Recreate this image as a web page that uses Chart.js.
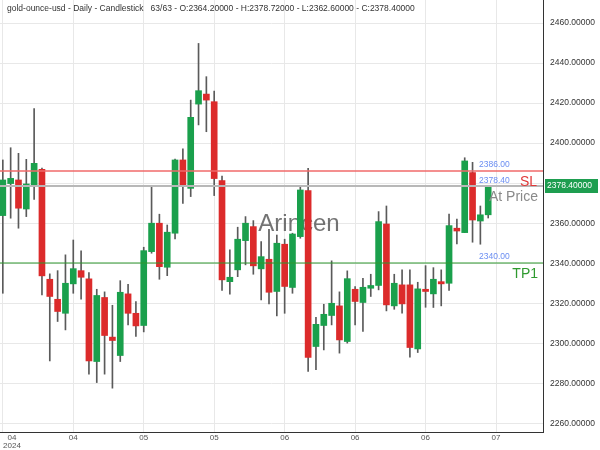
<!DOCTYPE html>
<html>
<head>
<meta charset="utf-8">
<script src="https://cdn.jsdelivr.net/npm/chart.js@4.4.1/dist/chart.umd.min.js"></script>
<style>
  body { margin: 0; background: #fff; }
  canvas { display: block; }
</style>
</head>
<body>
<canvas id="goldChart" width="600" height="450"></canvas>
<script>
// daily OHLC, 63 candles
var opens  = [2363.8, 2379.8, 2381.6, 2367.1, 2378.3, 2386.9, 2332.0, 2322.0, 2315.0, 2329.7,
              2336.3, 2332.2, 2290.9, 2322.9, 2303.1, 2293.9, 2324.7, 2315.0, 2308.9, 2345.8,
              2360.0, 2338.0, 2355.0, 2391.6, 2377.4, 2419.5, 2424.5, 2420.7, 2381.3, 2330.8,
              2336.7, 2351.3, 2358.3, 2337.2, 2342.0, 2325.9, 2349.5, 2327.9, 2353.3, 2376.3,
              2298.4, 2308.9, 2313.9, 2318.7, 2300.9, 2327.0, 2320.4, 2327.5, 2328.9, 2359.6,
              2318.7, 2329.2, 2329.2, 2297.2, 2327.0, 2324.7, 2330.8, 2330.0, 2357.5, 2355.3,
              2385.3, 2361.1, 2364.2];
var highs  = [2391.6, 2397.7, 2394.9, 2391.9, 2417.2, 2387.5, 2334.7, 2336.3, 2344.2, 2351.6,
              2346.2, 2335.3, 2327.0, 2325.7, 2319.0, 2331.3, 2329.5, 2320.9, 2348.0, 2378.6,
              2364.5, 2359.1, 2392.0, 2397.1, 2421.5, 2449.8, 2433.2, 2426.0, 2383.6, 2346.7,
              2358.0, 2363.3, 2361.3, 2350.8, 2357.0, 2354.1, 2352.0, 2355.0, 2378.3, 2387.4,
              2313.0, 2319.5, 2341.2, 2325.7, 2336.2, 2328.4, 2332.5, 2334.5, 2365.8, 2368.6,
              2334.5, 2336.7, 2336.7, 2330.5, 2338.8, 2337.8, 2336.7, 2364.5, 2362.0, 2392.7,
              2390.4, 2368.6, 2378.72];
var lows   = [2325.0, 2362.5, 2357.5, 2363.3, 2371.9, 2324.2, 2291.2, 2310.9, 2306.7, 2325.0,
              2322.0, 2284.6, 2280.4, 2284.6, 2277.6, 2290.9, 2309.2, 2303.4, 2305.7, 2345.0,
              2332.0, 2333.8, 2352.1, 2369.9, 2373.3, 2409.1, 2405.7, 2373.8, 2326.4, 2324.5,
              2333.3, 2339.2, 2334.5, 2321.7, 2319.7, 2313.7, 2315.0, 2325.0, 2352.5, 2285.9,
              2286.8, 2296.7, 2309.2, 2295.1, 2300.1, 2309.2, 2305.9, 2323.4, 2326.7, 2316.2,
              2317.0, 2315.0, 2293.1, 2295.4, 2318.0, 2317.9, 2318.7, 2326.4, 2349.7, 2355.3,
              2350.5, 2349.5, 2362.6];
var closes = [2381.6, 2382.4, 2367.5, 2379.6, 2389.9, 2333.7, 2323.4, 2315.9, 2330.0, 2337.3,
              2333.0, 2291.2, 2323.9, 2303.9, 2301.4, 2325.5, 2315.0, 2308.7, 2346.3, 2360.0,
              2338.3, 2355.5, 2391.6, 2378.3, 2412.9, 2426.2, 2421.5, 2382.3, 2331.7, 2333.0,
              2352.0, 2360.0, 2338.7, 2343.3, 2325.5, 2350.0, 2328.4, 2354.6, 2376.6, 2292.9,
              2309.5, 2314.5, 2320.0, 2301.7, 2332.3, 2320.9, 2328.0, 2328.9, 2360.8, 2319.2,
              2330.0, 2319.7, 2297.9, 2327.2, 2325.9, 2332.0, 2329.7, 2358.8, 2356.1, 2391.1,
              2361.6, 2364.2, 2378.4];

var xTickPos    = [0, 9, 18, 27, 36, 45, 54, 63];
var xTickLabels = ['04', '04', '05', '05', '06', '06', '06', '07'];
var yearLabel   = '2024';
var yTicks      = [2260, 2280, 2300, 2320, 2340, 2360, 2380, 2400, 2420, 2440, 2460];

var slLevel = 2386.00;
var lastPrice = 2378.40;
var tpLevel = 2340.00;

var UP = '#1aa04c';
var DOWN = '#dc2b2b';
var FONT = '"Liberation Sans", Arial, sans-serif';

var wickData = [], bodyData = [], bodyColors = [];
for (var i = 0; i < opens.length; i++) {
  wickData.push({ x: i, y: [lows[i], highs[i]] });
  bodyData.push({ x: i, y: [opens[i], closes[i]] });
  bodyColors.push(closes[i] >= opens[i] ? UP : DOWN);
}

var overlay = {
  id: 'overlay',
  beforeDatasetsDraw: function (chart) {
    var ctx = chart.ctx;
    ctx.save();
    ctx.fillStyle = 'rgba(90,90,90,0.85)';
    ctx.font = '24px ' + FONT;
    ctx.textAlign = 'center';
    ctx.textBaseline = 'middle';
    ctx.fillText('Arincen', 299, 224);
    ctx.restore();
  },
  afterDatasetsDraw: function (chart) {
    var ctx = chart.ctx, a = chart.chartArea, y = chart.scales.y, x = chart.scales.x;
    ctx.save();
    var ySl = Math.round(y.getPixelForValue(slLevel));
    var yLast = Math.round(y.getPixelForValue(lastPrice));
    var yTp = Math.round(y.getPixelForValue(tpLevel));

    ctx.lineWidth = 1.5;
    ctx.strokeStyle = '#f06a6a';
    ctx.beginPath(); ctx.moveTo(a.left, ySl); ctx.lineTo(a.right, ySl); ctx.stroke();
    ctx.lineWidth = 2;
    ctx.strokeStyle = '#b8b8b8';
    ctx.beginPath(); ctx.moveTo(a.left, yLast); ctx.lineTo(a.right, yLast); ctx.stroke();
    ctx.lineWidth = 1.2;
    ctx.strokeStyle = '#2e982e';
    ctx.beginPath(); ctx.moveTo(a.left, yTp); ctx.lineTo(a.right, yTp); ctx.stroke();

    // small price tags
    ctx.font = '8.5px ' + FONT;
    ctx.fillStyle = '#6b8ef2';
    ctx.textAlign = 'left';
    ctx.textBaseline = 'middle';
    ctx.fillText(slLevel.toFixed(2), 479, ySl - 6);
    ctx.fillText(lastPrice.toFixed(2), 479, yLast - 5);
    ctx.fillText(tpLevel.toFixed(2), 479, yTp - 6);

    ctx.font = '14px ' + FONT;
    ctx.textAlign = 'right';
    ctx.fillStyle = '#e03a3a';
    ctx.fillText('SL', 537, ySl + 11);
    ctx.fillStyle = '#8a8a8a';
    ctx.fillText('At Price', 538, yLast + 11);
    ctx.fillStyle = '#2f9a2f';
    ctx.fillText('TP1', 538, yTp + 11);

    // last price box on the axis
    ctx.fillStyle = '#1e9e50';
    ctx.fillRect(a.right + 2, yLast - 7, 53, 14);
    ctx.fillStyle = '#ffffff';
    ctx.font = '8.5px ' + FONT;
    ctx.textAlign = 'left';
    ctx.fillText(lastPrice.toFixed(5), a.right + 4, yLast);

    // header line
    ctx.fillStyle = '#333';
    ctx.fillText('gold-ounce-usd - Daily - Candlestick   63/63 - O:' + opens[62].toFixed(5) +
      ' - H:' + highs[62].toFixed(5) + ' - L:' + lows[62].toFixed(5) + ' - C:' + closes[62].toFixed(5), 7, 9);

    // date labels under the axis
    ctx.font = '8px ' + FONT;
    ctx.fillStyle = '#555';
    ctx.textAlign = 'center';
    xTickPos.forEach(function (v, k) {
      var px = x.getPixelForValue(v);
      if (k === 0) px = 12;
      ctx.fillText(xTickLabels[k], px, a.bottom + 6);
    });
    ctx.fillText(yearLabel, 12, a.bottom + 14);
    ctx.restore();
  }
};

var ctx = document.getElementById('goldChart');
var goldChart = new Chart(ctx, {
  type: 'bar',
  data: {
    datasets: [{
      label: 'wick',
      data: wickData,
      backgroundColor: '#5a5a5a',
      barThickness: 1,
      grouped: false,
      order: 2
    }, {
      label: 'body',
      data: bodyData,
      backgroundColor: bodyColors,
      barThickness: 6,
      minBarLength: 2,
      grouped: false,
      order: 1
    }]
  },
  options: {
    responsive: false,
    animation: false,
    layout: { padding: 0 },
    plugins: {
      legend: { display: false },
      tooltip: { enabled: false }
    },
    scales: {
      x: {
        type: 'linear',
        offset: false,
        min: -0.36,
        max: 69,
        afterBuildTicks: function (scale) {
          scale.ticks = xTickPos.map(function (v) { return { value: v }; });
        },
        afterFit: function (scale) {
          scale.height = 18;
          scale.paddingLeft = 0;
          scale.paddingRight = 0;
        },
        ticks: { display: false },
        grid: { color: '#e8e8e8', drawTicks: false, offset: false },
        border: { display: true, color: '#333', width: 1 }
      },
      y: {
        position: 'right',
        min: 2255.7,
        max: 2471.5,
        afterBuildTicks: function (scale) {
          scale.ticks = yTicks.map(function (v) { return { value: v }; });
        },
        afterFit: function (scale) {
          scale.width = 57;
          scale.paddingTop = 0;
          scale.paddingBottom = 0;
        },
        ticks: {
          padding: 7,
          color: '#333',
          font: { size: 8.5, family: FONT },
          callback: function (v) { return v.toFixed(5); }
        },
        grid: { color: '#e8e8e8', drawTicks: false },
        border: { display: true, color: '#333', width: 1 }
      }
    }
  },
  plugins: [overlay]
});
</script>
</body>
</html>
